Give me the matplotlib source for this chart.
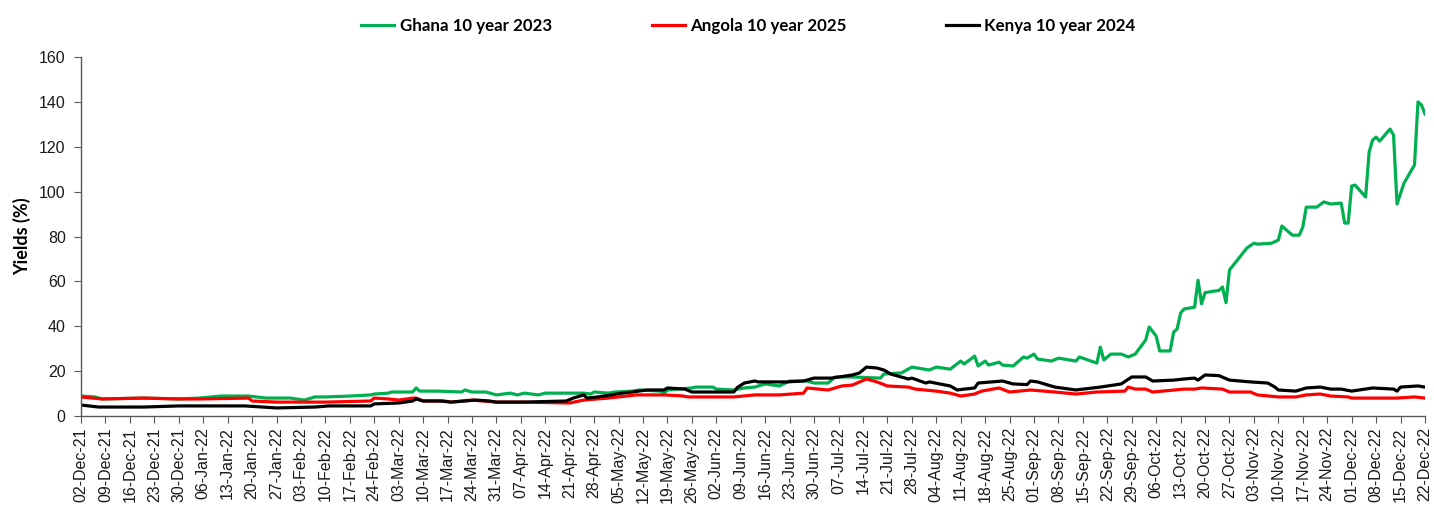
import matplotlib
matplotlib.use('Agg')
import matplotlib.pyplot as plt
import matplotlib.dates as mdates
import pandas as pd

# Eurobond yields (%)
ghana_dates = ['2021-12-02', '2021-12-06', '2021-12-08', '2021-12-20', '2021-12-30', '2022-01-05',
               '2022-01-11', '2022-01-19', '2022-01-24', '2022-01-31', '2022-02-04', '2022-02-07',
               '2022-02-10', '2022-02-17', '2022-02-23', '2022-02-24', '2022-02-28', '2022-03-01',
               '2022-03-07', '2022-03-08', '2022-03-09', '2022-03-14', '2022-03-21', '2022-03-22',
               '2022-03-24', '2022-03-28', '2022-03-31', '2022-04-04', '2022-04-06', '2022-04-08',
               '2022-04-12', '2022-04-14', '2022-04-25', '2022-04-27', '2022-04-28', '2022-05-02',
               '2022-05-04', '2022-05-09', '2022-05-11', '2022-05-17', '2022-05-18', '2022-05-19',
               '2022-05-26', '2022-05-27', '2022-06-01', '2022-06-02', '2022-06-07', '2022-06-10',
               '2022-06-13', '2022-06-16', '2022-06-20', '2022-06-23', '2022-06-28', '2022-06-30',
               '2022-07-04', '2022-07-06', '2022-07-11', '2022-07-19', '2022-07-20', '2022-07-25',
               '2022-07-28', '2022-08-02', '2022-08-04', '2022-08-08', '2022-08-11', '2022-08-12',
               '2022-08-15', '2022-08-16', '2022-08-18', '2022-08-19', '2022-08-22', '2022-08-23',
               '2022-08-26', '2022-08-29', '2022-08-30', '2022-09-01', '2022-09-02', '2022-09-06',
               '2022-09-08', '2022-09-13', '2022-09-14', '2022-09-19', '2022-09-20', '2022-09-21',
               '2022-09-23', '2022-09-26', '2022-09-28', '2022-09-30', '2022-10-03', '2022-10-04',
               '2022-10-06', '2022-10-07', '2022-10-10', '2022-10-11', '2022-10-12', '2022-10-13',
               '2022-10-14', '2022-10-17', '2022-10-18', '2022-10-19', '2022-10-20', '2022-10-24',
               '2022-10-25', '2022-10-26', '2022-10-27', '2022-11-01', '2022-11-03', '2022-11-04',
               '2022-11-08', '2022-11-10', '2022-11-11', '2022-11-14', '2022-11-16', '2022-11-17',
               '2022-11-18', '2022-11-21', '2022-11-23', '2022-11-25', '2022-11-28', '2022-11-29',
               '2022-11-30', '2022-12-01', '2022-12-02', '2022-12-05', '2022-12-06', '2022-12-07',
               '2022-12-08', '2022-12-09', '2022-12-12', '2022-12-13', '2022-12-14', '2022-12-16',
               '2022-12-19', '2022-12-20', '2022-12-21', '2022-12-22']
ghana_yield = [8.9, 8.5, 7.6, 8.0, 7.6, 8.0,
               8.9, 8.9, 8.0, 8.0, 7.1, 8.5,
               8.5, 8.9, 9.4, 9.8, 10.2, 10.7,
               10.7, 12.5, 11.1, 11.1, 10.7, 11.6,
               10.7, 10.7, 9.4, 10.2, 9.4, 10.2,
               9.4, 10.2, 10.2, 9.8, 10.7, 10.2,
               10.7, 11.1, 11.6, 11.1, 10.2, 11.6,
               12.5, 12.9, 12.9, 12.0, 11.6, 12.5,
               12.9, 14.3, 13.4, 15.6, 15.6, 14.7,
               14.7, 17.4, 17.4, 16.9, 18.7, 19.2,
               21.8, 20.5, 21.8, 20.9, 24.5, 23.2,
               26.7, 22.3, 24.5, 22.7, 24.0, 22.7,
               22.3, 26.3, 25.8, 27.6, 25.4, 24.5,
               25.8, 24.5, 26.3, 23.6, 30.7, 25.0,
               27.6, 27.6, 26.3, 27.6, 33.9, 39.7,
               35.6, 29.0, 29.0, 37.4, 38.8, 45.9,
               47.7, 48.5, 60.5, 50.0, 55.0, 56.0,
               57.5, 50.5, 65.1, 74.9, 77.0, 76.6,
               77.0, 78.4, 84.7, 80.6, 80.6, 84.2,
               93.1, 93.1, 95.4, 94.5, 94.9, 86.0,
               86.0, 102.5, 102.9, 97.6, 117.6, 123.0,
               124.3, 122.5, 127.9, 125.2, 94.5, 103.8,
               111.9, 140.0, 138.6, 134.6]

angola_dates = ['2021-12-02', '2021-12-08', '2021-12-20', '2021-12-30', '2022-01-05', '2022-01-19',
                '2022-01-20', '2022-01-27', '2022-02-07', '2022-02-10', '2022-02-23', '2022-02-24',
                '2022-02-28', '2022-03-03', '2022-03-07', '2022-03-08', '2022-03-10', '2022-03-16',
                '2022-03-18', '2022-03-24', '2022-03-31', '2022-04-08', '2022-04-21', '2022-04-25',
                '2022-05-02', '2022-05-05', '2022-05-10', '2022-05-18', '2022-05-23', '2022-05-25',
                '2022-06-03', '2022-06-07', '2022-06-13', '2022-06-20', '2022-06-27', '2022-06-28',
                '2022-07-04', '2022-07-06', '2022-07-08', '2022-07-11', '2022-07-15', '2022-07-18',
                '2022-07-21', '2022-07-27', '2022-07-29', '2022-08-04', '2022-08-08', '2022-08-11',
                '2022-08-15', '2022-08-17', '2022-08-22', '2022-08-25', '2022-08-31', '2022-09-07',
                '2022-09-13', '2022-09-19', '2022-09-27', '2022-09-28', '2022-09-30', '2022-10-03',
                '2022-10-05', '2022-10-14', '2022-10-17', '2022-10-19', '2022-10-25', '2022-10-27',
                '2022-11-02', '2022-11-04', '2022-11-10', '2022-11-15', '2022-11-18', '2022-11-22',
                '2022-11-25', '2022-11-30', '2022-12-01', '2022-12-09', '2022-12-14', '2022-12-19',
                '2022-12-22']
angola_yield = [8.5, 7.6, 8.0, 7.6, 7.6, 8.0,
                6.7, 6.2, 6.2, 6.2, 6.7, 8.0,
                7.6, 7.1, 8.0, 8.0, 6.7, 6.7,
                6.2, 7.1, 6.2, 6.2, 5.8, 7.1,
                8.0, 8.5, 9.4, 9.4, 9.0, 8.5,
                8.5, 8.5, 9.4, 9.4, 10.2, 12.5,
                11.6, 12.5, 13.4, 13.8, 16.5, 15.2,
                13.4, 12.9, 12.0, 11.1, 10.2, 8.9,
                9.8, 11.1, 12.5, 10.7, 11.6, 10.7,
                9.8, 10.7, 11.1, 12.9, 12.0, 12.0,
                10.7, 12.0, 12.0, 12.5, 12.0, 10.7,
                10.7, 9.4, 8.5, 8.5, 9.4, 9.8,
                8.9, 8.5, 8.0, 8.0, 8.0, 8.5,
                8.0]

kenya_dates = ['2021-12-02', '2021-12-07', '2021-12-20', '2021-12-30', '2022-01-18', '2022-01-27',
               '2022-02-07', '2022-02-11', '2022-02-23', '2022-02-24', '2022-03-03', '2022-03-07',
               '2022-03-08', '2022-03-10', '2022-03-15', '2022-03-18', '2022-03-25', '2022-03-29',
               '2022-03-31', '2022-04-08', '2022-04-20', '2022-04-22', '2022-04-25', '2022-04-26',
               '2022-04-29', '2022-05-03', '2022-05-06', '2022-05-09', '2022-05-13', '2022-05-18',
               '2022-05-19', '2022-05-24', '2022-05-26', '2022-06-01', '2022-06-07', '2022-06-08',
               '2022-06-10', '2022-06-13', '2022-06-14', '2022-06-22', '2022-06-27', '2022-06-30',
               '2022-07-05', '2022-07-11', '2022-07-13', '2022-07-15', '2022-07-18', '2022-07-20',
               '2022-07-22', '2022-07-27', '2022-07-28', '2022-08-01', '2022-08-02', '2022-08-05',
               '2022-08-08', '2022-08-10', '2022-08-12', '2022-08-15', '2022-08-16', '2022-08-23',
               '2022-08-26', '2022-08-30', '2022-08-31', '2022-09-02', '2022-09-05', '2022-09-07',
               '2022-09-13', '2022-09-20', '2022-09-26', '2022-09-29', '2022-10-03', '2022-10-05',
               '2022-10-11', '2022-10-14', '2022-10-17', '2022-10-18', '2022-10-20', '2022-10-24',
               '2022-10-27', '2022-11-02', '2022-11-07', '2022-11-09', '2022-11-10', '2022-11-15',
               '2022-11-18', '2022-11-22', '2022-11-25', '2022-11-28', '2022-12-01', '2022-12-07',
               '2022-12-13', '2022-12-14', '2022-12-15', '2022-12-20', '2022-12-22']
kenya_yield = [4.9, 4.0, 4.0, 4.5, 4.5, 3.6,
               4.0, 4.5, 4.5, 5.4, 5.8, 6.7,
               7.6, 6.7, 6.7, 6.2, 7.1, 6.7,
               6.2, 6.2, 6.7, 8.0, 9.4, 8.0,
               8.5, 9.4, 10.2, 10.7, 11.6, 11.6,
               12.5, 12.0, 10.7, 10.7, 10.7, 12.7,
               14.7, 15.6, 15.2, 15.2, 15.6, 16.9,
               16.9, 18.3, 19.2, 21.8, 21.4, 20.5,
               18.7, 16.5, 16.9, 14.7, 15.2, 14.3,
               13.4, 11.6, 12.0, 12.5, 14.7, 15.6,
               14.3, 14.0, 15.6, 15.2, 13.8, 12.9,
               11.6, 12.9, 14.3, 17.4, 17.4, 15.6,
               16.0, 16.5, 16.9, 16.0, 18.3, 18.0,
               16.0, 15.2, 14.7, 12.9, 11.6, 11.1,
               12.5, 12.9, 12.0, 12.0, 11.1, 12.5,
               12.0, 11.1, 12.9, 13.4, 12.9]

series_names = ['Ghana 10 year 2023', 'Angola 10 year 2025', 'Kenya 10 year 2024']
series_colors = ['#00B050', '#FF0000', '#000000']

fig = plt.figure(figsize=(14.34, 5.05), dpi=100)
ax = fig.add_axes([0.0565, 0.1762, 0.9372, 0.7109])

all_data = [(ghana_dates, ghana_yield), (angola_dates, angola_yield), (kenya_dates, kenya_yield)]
for (d, v), name, col in zip(all_data, series_names, series_colors):
    ax.plot(pd.to_datetime(d), v, color=col, lw=2.3, label=name, solid_joinstyle='round')

start = pd.Timestamp('2021-12-02')
end = pd.Timestamp('2022-12-22')
ax.set_xlim(start, end)
ax.set_ylim(0, 160)
ax.set_yticks(range(0, 161, 20))
ax.xaxis.set_major_locator(mdates.WeekdayLocator(byweekday=mdates.TH, interval=1))
ax.xaxis.set_major_formatter(mdates.DateFormatter('%d-%b-%y'))

for s in ['top', 'right']:
    ax.spines[s].set_visible(False)
for s in ['left', 'bottom']:
    ax.spines[s].set_color('#595959')
    ax.spines[s].set_linewidth(1.0)

ax.tick_params(axis='both', direction='out', color='#595959', length=5)
ax.tick_params(axis='y', labelsize=11.5, pad=6)
ax.tick_params(axis='x', labelsize=11.5, labelrotation=90, pad=3)
for lab in ax.get_xticklabels() + ax.get_yticklabels():
    lab.set_fontfamily('Liberation Sans')
    lab.set_color('#1a1a1a')

ax.set_ylabel('Yields (%)', fontsize=13, fontweight='bold', family='Lato', labelpad=6)

fig.legend(loc='upper center', bbox_to_anchor=(0.522, 0.995), ncol=3, frameon=False,
           prop={'family': 'Lato', 'weight': 'bold', 'size': 12.2},
           handlelength=1.95, handletextpad=0.3, columnspacing=5.9)

fig.savefig('out.png', dpi=100)
